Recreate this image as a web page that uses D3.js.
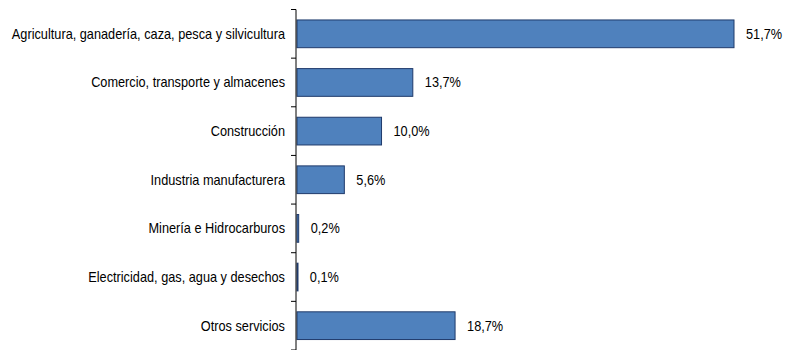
<!DOCTYPE html>
<html>
<head>
<meta charset="utf-8">
<script src="https://cdn.jsdelivr.net/npm/d3@7"></script>
<style>
  body { margin: 0; background: #fff; }
  text { font-family: "Liberation Sans Narrow", "Arial Narrow", "Liberation Sans", sans-serif; }
</style>
</head>
<body>
<div id="canvas"></div>
<script>
const sectors = [
  "Agricultura, ganadería, caza, pesca y silvicultura",
  "Comercio, transporte y almacenes",
  "Construcción",
  "Industria manufacturera",
  "Minería e Hidrocarburos",
  "Electricidad, gas, agua y desechos",
  "Otros servicios"
];
const shares = [51.7, 13.7, 10.0, 5.6, 0.2, 0.1, 18.7];

const width = 785;
const height = 350;
const margin = { top: 9.5, left: 296, bottom: 0, right: 51 };
const iwidth = width - margin.left - margin.right;
const iheight = height - margin.top - margin.bottom;

// narrow look: the source font is condensed
const squeeze = 0.91;

const svg = d3.select("#canvas").append("svg")
  .attr("width", width)
  .attr("height", height);

const g = svg.append("g").attr("transform", `translate(${margin.left},${margin.top})`);

const x = d3.scaleLinear()
  .domain([0, 51.7])
  .range([1, 438]);

const y = d3.scaleBand()
  .domain(sectors)
  .range([0, iheight])
  .paddingInner(0.43)
  .paddingOuter(0.215);

const data = sectors.map((s, i) => ({ name: s, value: shares[i] }));

g.selectAll("rect.bar").data(data).enter().append("rect")
  .attr("class", "bar")
  .attr("x", x(0))
  .attr("y", d => y(d.name))
  .attr("width", d => Math.max(x(d.value) - x(0), 1))
  .attr("height", y.bandwidth())
  .style("fill", "#4f81bd")
  .style("stroke", "#1f3a6b")
  .style("stroke-width", 1);

g.selectAll("text.val").data(data).enter().append("text")
  .attr("class", "val")
  .attr("transform", d => `translate(${x(d.value) + 12},${y(d.name) + y.bandwidth() / 2}) scale(${squeeze},1)`)
  .attr("dy", "0.35em")
  .style("font-size", "14px")
  .style("fill", "#000")
  .text(d => d.value.toFixed(1).replace(".", ",") + "%");

// axis: ticks between the categories
const axis = g.append("g").attr("class", "y--axis");
axis.append("line")
  .attr("x1", 0).attr("x2", 0)
  .attr("y1", 0).attr("y2", iheight + 1)
  .attr("stroke", "#000");

const step = y.step();
const bounds = d3.range(sectors.length + 1).map(i => i * step);
axis.selectAll("line.tick").data(bounds).enter().append("line")
  .attr("class", "tick")
  .attr("x1", -5).attr("x2", 0)
  .attr("y1", d => d).attr("y2", d => d)
  .attr("stroke", "#000");

axis.selectAll("text.cat").data(sectors).enter().append("text")
  .attr("class", "cat")
  .attr("transform", d => `translate(-11,${y(d) + y.bandwidth() / 2}) scale(${squeeze},1)`)
  .attr("dy", "0.35em")
  .attr("text-anchor", "end")
  .style("font-size", "14px")
  .style("fill", "#000")
  .text(d => d);
</script>
</body>
</html>
